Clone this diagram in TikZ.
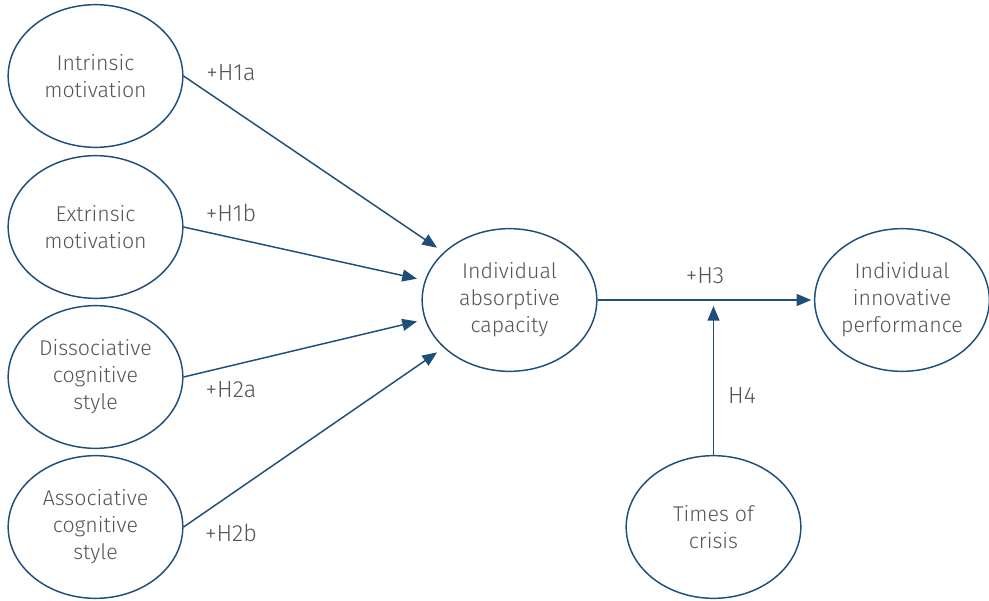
\documentclass[tikz,border=0pt]{standalone}
\usepackage{fontspec}
\setmainfont{Fira Sans}[UprightFont={* Light}]
\usetikzlibrary{shapes.geometric,arrows.meta}
\definecolor{lineblue}{HTML}{1F4E7A}
\definecolor{txtgray}{HTML}{555555}
\begin{document}
\begin{tikzpicture}[x=0.75pt,y=-0.75pt,
  construct/.style={ellipse,draw=lineblue,line width=1.1pt,minimum width=131pt,minimum height=107pt,inner sep=0pt,align=center,text=txtgray,font=\fontsize{16}{20.3}\selectfont},
  hyp/.style={text=txtgray,font=\fontsize{17.5}{21}\selectfont,inner sep=0pt},
  link/.style={draw=lineblue,line width=1.1pt,-{Triangle[length=11pt,width=9pt]}}]
\useasboundingbox (0,0) rectangle (989,600);
\node[construct] (im) at (95.5,76) {Intrinsic\\motivation};
\node[construct] (em) at (95.5,227) {Extrinsic\\motivation};
\node[construct] (dc) at (95.5,377) {Dissociative\\cognitive\\style};
\node[construct] (ac) at (95.5,527) {Associative\\cognitive\\style};
\node[construct] (cap) at (509.5,300) {Individual\\absorptive\\capacity};
\node[construct] (perf) at (902,300) {Individual\\innovative\\performance};
\node[construct] (cr) at (713.5,527) {Times of\\crisis};
\coordinate (mod) at (713.5,306);
\draw[link,shorten >=6pt] (im.east) -- (cap.144);
\draw[link,shorten >=6pt] (em.east) -- (cap.167);
\draw[link,shorten >=6pt] (dc.east) -- (cap.193);
\draw[link,shorten >=6pt] (ac.east) -- (cap.216);
\draw[link,shorten >=2pt] (cap.east) -- (perf.west);
\draw[link] (cr.north) -- (mod);
\node[hyp] (h1a) at (231,73) {+H1a};
\node[hyp] (h1b) at (231,213) {+H1b};
\node[hyp] (h2a) at (231,390) {+H2a};
\node[hyp] (h2b) at (231,533) {+H2b};
\node[hyp] (h3) at (705,276) {+H3};
\node[hyp] (h4) at (742,396) {H4};
\end{tikzpicture}
\end{document}
